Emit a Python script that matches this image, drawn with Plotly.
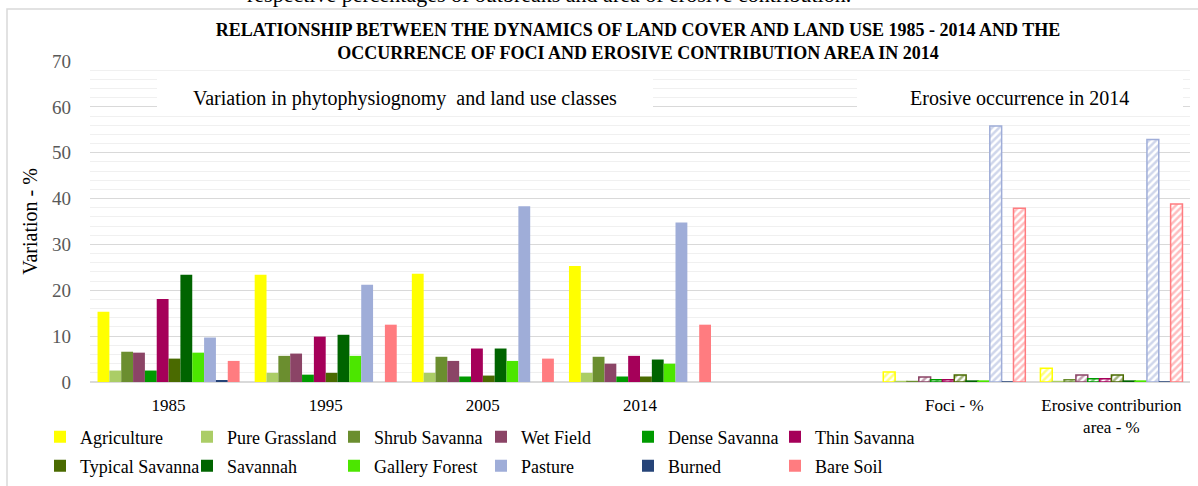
import plotly.graph_objects as go

# ---------------- data ----------------
categories = ["1985", "1995", "2005", "2014", " ", "Foci - %", "Erosive contriburion<br>area - %"]
hatched = [False, False, False, False, False, True, True]

series_names = ["Agriculture", "Pure Grassland", "Shrub Savanna", "Wet Field",
                "Dense Savanna", "Thin Savanna", "Typical Savanna", "Savannah",
                "Gallery Forest", "Pasture", "Burned", "Bare Soil"]

agriculture     = [15.3, 23.4, 23.6, 25.3, None, 2.2, 3.0]
pure_grassland  = [2.5, 2.0, 2.0, 2.0, None, 0.1, 0.1]
shrub_savanna   = [6.6, 5.7, 5.5, 5.5, None, 0.1, 0.5]
wet_field       = [6.4, 6.2, 4.6, 4.0, None, 1.1, 1.5]
dense_savanna   = [2.5, 1.6, 1.2, 1.2, None, 0.5, 0.7]
thin_savanna    = [18.1, 9.9, 7.3, 5.7, None, 0.5, 0.7]
typical_savanna = [5.1, 2.0, 1.4, 1.2, None, 1.5, 1.5]
savannah        = [23.4, 10.3, 7.3, 4.9, None, 0.2, 0.2]
gallery_forest  = [6.4, 5.7, 4.6, 4.0, None, 0.2, 0.2]
pasture         = [9.7, 21.2, 38.3, 34.8, None, 55.8, 52.9]
burned          = [0.3, 0.0, 0.0, 0.0, None, 0.0, 0.0]
bare_soil       = [4.6, 12.5, 5.1, 12.5, None, 37.9, 38.8]

series_values = [agriculture, pure_grassland, shrub_savanna, wet_field,
                 dense_savanna, thin_savanna, typical_savanna, savannah,
                 gallery_forest, pasture, burned, bare_soil]

colors = ["#FFFF00", "#ABCD66", "#6B8E2F", "#8B4466", "#009A00", "#A50059",
          "#4A6A00", "#006400", "#4CE600", "#9FADD8", "#264478", "#FF7C80"]

FONT = "Liberation Serif, Times New Roman, serif"

fig = go.Figure()
for i, (name, vals, col) in enumerate(zip(series_names, series_values, colors)):
    fig.add_trace(go.Bar(
        x=categories, y=vals, name=name,
        legend="legend" if i < 6 else "legend2",
        marker=dict(
            color=col,
            line=dict(color=col, width=[1.5 if h else 0 for h in hatched]),
            pattern=dict(shape=["/" if h else "" for h in hatched],
                         fgcolor=col, bgcolor="white", size=5, solidity=0.5),
        ),
    ))

PL, PR, PT, PB = 90, 8, 61, 104
W, H = 1198, 486
pw, ph = W - PL - PR, H - PT - PB

def px(xp):
    return (xp - PL) / pw

def py(yp):
    return (H - PB - yp) / ph

def ydata(yp):
    return (H - PB - yp) / ph * 70

fig.update_layout(
    width=W, height=H,
    margin=dict(l=PL, r=PR, t=PT, b=PB, autoexpand=False),
    plot_bgcolor="white", paper_bgcolor="white",
    barmode="group", bargap=0.096, bargroupgap=0,
    font=dict(family=FONT, color="black"),
    title=dict(
        text="<b>RELATIONSHIP BETWEEN THE DYNAMICS OF LAND COVER AND LAND USE 1985 - 2014 AND THE<br>"
             "OCCURRENCE OF FOCI AND EROSIVE CONTRIBUTION AREA IN 2014</b>",
        x=638 / W, xref="container", xanchor="center",
        y=1 - 36 / H, yref="container", yanchor="top",
        font=dict(family=FONT, size=18, color="black"),
    ),
    xaxis=dict(
        type="category", categoryorder="array", categoryarray=categories,
        range=[-0.5, len(categories) - 0.5],
        showgrid=False, ticks="", showline=False, zeroline=False,
        tickfont=dict(family=FONT, size=17, color="black"),
        ticklabelstandoff=11,
    ),
    yaxis=dict(
        range=[0, 70], tick0=0, dtick=10,
        gridcolor="#d9d9d9", gridwidth=1.3,
        minor=dict(dtick=2, showgrid=True, gridcolor="#f0f0f0", gridwidth=1.3),
        zeroline=True, zerolinecolor="#d9d9d9", zerolinewidth=2,
        showline=False, ticks="",
        tickfont=dict(family=FONT, size=19, color="#595959"),
        ticklabelstandoff=18,
        title=dict(text="Variation - %", font=dict(family=FONT, size=20, color="black"), standoff=9),
    ),
    legend=dict(orientation="h", xref="container", yref="container",
                x=40 / W, xanchor="left", y=1 - 437 / H, yanchor="middle",
                entrywidth=102, font=dict(family=FONT, size=18, color="black"),
                bgcolor="rgba(0,0,0,0)", traceorder="normal"),
    legend2=dict(orientation="h", xref="container", yref="container",
                 x=40 / W, xanchor="left", y=1 - 466 / H, yanchor="middle",
                 entrywidth=102, font=dict(family=FONT, size=18, color="black"),
                 bgcolor="rgba(0,0,0,0)", traceorder="normal"),
)

# outer chart border
fig.add_shape(type="rect", xref="paper", yref="paper",
              x0=px(7), x1=px(1210), y0=py(500), y1=py(9),
              line=dict(color="#d9d9d9", width=1.5), fillcolor="rgba(0,0,0,0)", layer="below")

# white text boxes covering gridlines
for x0, x1 in [(157, 653), (857, 1183)]:
    fig.add_shape(type="rect", xref="paper", yref="y",
                  x0=px(x0), x1=px(x1), y0=58.9, y1=67.4,
                  line=dict(width=0), fillcolor="white", layer="above")

fig.add_annotation(text="Variation in phytophysiognomy  and land use classes",
                   x=px(405), xref="paper", xanchor="center", y=ydata(98), yref="y",
                   showarrow=False, font=dict(family=FONT, size=20, color="black"))
fig.add_annotation(text="Erosive occurrence in 2014",
                   x=px(1019), xref="paper", xanchor="center", y=ydata(98), yref="y",
                   showarrow=False, font=dict(family=FONT, size=20, color="black"))

# clipped caption line from the surrounding document
fig.add_annotation(text="respective percentages of outbreaks and area of erosive contribution.",
                   x=px(549), xref="paper", xanchor="center", y=py(-6), yref="paper", yanchor="middle",
                   showarrow=False, font=dict(family=FONT, size=22, color="black"))

fig.write_html("out.html", config={"displayModeBar": False},
               post_script="document.body.style.margin='0';document.body.style.overflow='hidden';")
